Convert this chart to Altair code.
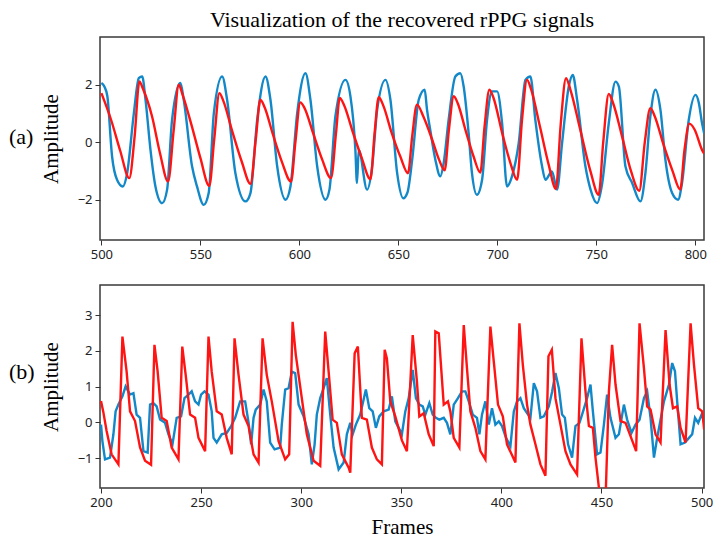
import altair as alt
import pandas as pd

# ---------------- data ----------------
# (a) top panel
top_blue_x = [500, 501.5, 503, 505.4, 507.9, 510.8, 513, 516.4, 518.9, 520.6, 522.3, 524.8, 527.3, 530.7,
              533.2, 535.7, 539.9, 541.6, 545.8, 548.3, 551.7, 554.2, 556.8, 561, 563.5, 567.7, 572.8,
              575.3, 578.7, 582.9, 585.4, 588.8, 593, 595.5, 598.9, 603.1, 605.6, 609, 613.2, 615.2, 618.2,
              623.3, 625.8, 628.3, 629.1, 630, 634.2, 636.8, 639.3, 643.5, 646, 649.4, 652.5, 654.6, 657,
              660.3, 663.3, 664.5, 666.1, 668.7, 671.2, 672.9, 675.4, 678.8, 681.3, 683, 685.5, 687.2,
              689.7, 692.3, 694.8, 697.3, 699.9, 702.4, 704.9, 707.4, 710.8, 714.2, 716.7, 719.2, 722.6,
              724.3, 727.6, 730.2, 732.7, 736.1, 738.1, 740.3, 744.5, 747.1, 750.4, 753, 756.3, 759.7,
              761.4, 764.7, 768.1, 772.3, 774.8, 777.3, 779.9, 782.4, 784.9, 788.3, 791.3, 793.3, 796.7,
              800.1, 801.8, 803.4, 804.5]
top_blue_y = [2.05, 1.93, 1.6, -0.5, -1.31, -1.54, -1.08, 1.0, 2.22, 2.28, 1.47, -0.27, -1.54, -2.12,
              -1.65, 0.77, 2.05, 1.47, -0.84, -1.54, -2.18, -1.77, 1.0, 2.28, 1.47, -1.08, -2.06,
              -1.77, 0.77, 2.28, 1.47, -0.84, -2.0, -1.54, 1.0, 2.39, 1.47, -0.84, -2.0, -1.65, 0.89,
              2.16, 1.59, -0.27, -1.42, -0.27, -1.65, -0.84, 1.12, 2.16, 1.47, -1.08, -1.95, -1.75, -0.61,
              1.47, 1.82, 1.12, 0.43, -0.61, -1.19, -0.73, 0.77, 2.28, 2.39, 1.93, 0.31, -1.08,
              -1.83, -1.31, 0.77, 1.76, 1.76, 0.66, -1.54, -1.19, -0.04, 2.16, 2.28, 0.77, -0.84,
              -1.31, -1.02, -1.65, -0.04, 1.93, 2.33, 1.47, -0.84, -1.65, -2.12, -1.42, 0.66, 2.1,
              1.93, -0.84, -1.42, -2.06, -1.08, 0.89, 1.82, 1.12, -0.61, -1.77, -2.0, -1.42, 0.77,
              1.64, 1.36, 0.66, 0.3]

top_red_x = [500, 505, 509.5, 514.1, 516.8, 519.2, 521, 525.6, 529.5, 533.7, 536.5, 539.1, 541, 545.5,
             550, 554.5, 557, 559.6, 561.5, 566, 571, 575.3, 578, 580.3, 582.5, 586.5, 591, 595.8, 598,
             600.5, 602.5, 607, 611.5, 616, 618.5, 620.4, 622.5, 627, 631.5, 635.9, 638, 640.1, 642.5,
             646.5, 651, 654.9, 657, 659.4, 662.7, 667, 670.5, 673.4, 675.5, 678, 680, 684, 688, 691.4,
             693.5, 696, 698, 702.5, 706.5, 710, 712.5, 715, 717, 721.5, 726, 729.6, 732, 734.7, 737,
             742, 747, 751.2, 753.5, 756.3, 758.5, 763, 767.5, 771.7, 774.5, 777.3, 779.5, 784, 788.5,
             792.4, 794.5, 797, 799.7, 803.4, 804.5]
top_red_y = [1.70, 0.75, -0.3, -1.25, 0.2, 2.11, 1.85, 0.89, -0.35, -1.37, 0.4, 1.99, 1.65, 0.6,
             -0.55, -1.52, 0.1, 1.70, 1.45, 0.4, -0.7, -1.45, 0.1, 1.47, 1.2, 0.3, -0.65, -1.37, 0.0,
             1.38, 1.2, 0.3, -0.6, -1.25, 0.3, 1.53, 1.3, 0.35, -0.55, -1.29, 0.3, 1.56, 1.25,
             0.35, -0.5, -1.08, 0.2, 1.30, 0.88, 0.1, -0.6, -0.98, 0.4, 1.59, 1.35, 0.4, -0.5, -1.06,
             0.5, 1.82, 1.55, 0.3, -0.7, -1.31, 0.8, 2.16, 1.85, 0.55, -0.8, -1.63, 0.6, 2.22, 1.8,
             0.4, -1.0, -1.83, 0.0, 1.67, 1.35, 0.2, -1.0, -1.69, 0.0, 1.18, 0.9, -0.1, -1.0,
             -1.65, -0.3, 0.64, 0.43, -0.27, -0.4]

# (b) bottom panel
bot_blue_x = [200, 200.7, 202, 204.5, 206.2, 207.3, 208.7, 210.7, 212.3, 214.5, 216.2, 217.8, 219.5, 221.2,
              223.3, 224.5, 226.2, 227.8, 229.5, 232, 233.7, 235.7, 237.8, 240, 241.7, 243.7, 245.3, 247,
              248.7, 250, 251.7, 253.7, 255.3, 256.2, 257.8, 260.3, 262.8, 265, 267, 269.5, 272, 273.7,
              275, 276.2, 277.3, 279.5, 281.2, 282.8, 284.5, 286.7, 289.5, 290.3, 292, 293.7, 295.3, 297,
              298.7, 301.2, 303.7, 305.3, 306.7, 307.8, 309.5, 311.2, 312.8, 314.5, 316.2, 318.7, 321.2,
              322.8, 324.5, 325.7, 327.3, 329.5, 332.3, 334, 335.7, 337.3, 339, 341.2, 343.7, 345.3, 347,
              348.7, 350.3, 352, 353.7, 355.7, 357.3, 359, 360.7, 362, 364, 365.7, 367.3, 369, 371.2,
              372.8, 374.5, 376.2, 378.3, 380.3, 382, 383.7, 385.7, 387.8, 389, 390.3, 392, 393.7, 395.3,
              397, 398.7, 400.3, 402.3, 404.5, 406.2, 407.8, 409.5, 411.2, 412.8, 414.5, 416.2, 417.8,
              419.5, 421.2, 423.7, 425.3, 427, 428.7, 430.3, 431.7, 433.3, 435.3, 437, 439, 440.3, 442.8,
              444.5, 445.7, 447.8, 449.5, 451.2, 452.8, 454.5, 457, 458.7, 461.2, 462.8, 465, 467, 469,
              471.2, 472.8, 474.5, 476.2, 477.8, 479.5, 481.2, 483.7, 485.3, 486.7, 487.8, 489.5, 491.7,
              493.7, 495.3, 496.7, 498.3, 500, 501.3]
bot_blue_y = [-0.06, -0.52, -1.03, -0.98, -0.33, 0.31, 0.50, 0.73, 1.01, 0.78, 0.82, 0.22, 0.13, -0.80,
              -0.84, 0.50, 0.54, 0.45, 0.08, -0.01, -0.33, -0.61, 0.13, 0.17, 0.68, 0.78, 0.87, 0.59,
              0.50, 0.78, 0.87, 0.78, 0.31, -0.43, -0.56, -0.33, -0.29, -0.10, 0.13, 0.59, 0.59, 0.0,
              -0.61, 0.13, 0.36, 0.50, 0.92, 0.59, -0.56, -0.75, -0.70, -0.06, 0.92, 0.96, 1.42, 1.38,
              0.50, 0.17, -0.33, -1.17, -0.61, 0.22, 0.68, 0.96, 1.24, 0.22, -0.70, -1.31, -1.12,
              -0.33, -0.01, -0.33, -0.06, 0.22, 0.92, 0.40, 0.31, -0.15, 0.17, 0.31, 0.36, 0.73, 0.03,
              -0.15, -0.33, 0.31, 0.68, 1.47, 0.68, 0.50, 0.45, 0.22, 0.54, 0.22, 0.13, 0.08, 0.13,
              -0.01, -0.33, 0.50, 0.68, 0.87, 0.87, 0.59, 0.22, 0.13, -0.33, 0.22, 0.59, -0.06, 0.40,
              -0.06, 0.03, -0.10, -0.43, -0.66, 0.31, 0.59, 0.68, 0.40, 0.26, 0.13, 1.10, 0.87,
              0.13, 0.17, 0.45, 0.85, 1.38, 0.96, 0.22, 0.13, -0.61, -0.98, -0.10, -0.01, 0.22, 0.68,
              1.06, 0.31, -0.89, -0.84, -0.06, 0.78, 0.13, -0.43, -0.33, 0.50, 0.08, -0.29, -0.06, 0.08,
              0.68, 0.87, 0.13, -0.98, -0.43, 0.08, 0.59, 1.06, 1.66, 1.43, 0.59, -0.61, -0.56,
              -0.43, -0.33, 0.13, -0.01, 0.22, 0.03]

bot_red_x = [200, 201.1, 202.8, 205.3, 208.7, 210.7, 212.8, 214.5, 217, 219.5, 222, 225, 226.7, 228.3,
             230.3, 232.8, 235.3, 238.7, 240.6, 242.3, 244.5, 247, 248.7, 252, 253.7, 255.3, 257.8, 260.3,
             262.8, 265.3, 266.7, 268.7, 271.2, 273.7, 276.2, 278.7, 280.7, 282.8, 285.3, 288.7, 292, 294,
             295.7, 297.3, 300.3, 302.8, 306.2, 309.5, 312, 313.7, 315.7, 317.8, 320.3, 323.7, 324.5,
             326.7, 328.3, 330.3, 332.8, 335.3, 337.8, 340.3, 341.7, 342.8, 344.5, 347, 350.3, 352.8,
             355.7, 357.8, 359, 361.2, 363.7, 366.2, 367, 368.7, 371.2, 373.3, 374.5, 376.2, 379, 381.2,
             382.8, 384.5, 387, 389.5, 392, 394.5, 396.2, 398.3, 400.7, 402.8, 407, 409, 410.7, 412.8,
             414.5, 417, 419.5, 422, 423.5, 425.2, 427, 429.5, 432, 434.5, 437.8, 440, 442, 443.7, 445.7,
             447, 448.7, 450.5, 452, 453.7, 455.3, 457, 459.5, 462, 464.5, 467.3, 469, 471.2, 472.8,
             474.5, 477, 479.5, 482, 484, 485.7, 487.8, 489.5, 492, 494.5, 496.2, 498.3, 500.3, 501.3]
bot_red_y = [0.60, 0.31, -0.24, -0.89, -1.17, 2.40, 1.42, 0.31, 0.04, -0.70, -1.07, -1.18, 2.17, 1.42,
             0.13, 0.04, -0.70, -1.03, 2.12, 1.33, 0.22, 0.13, -0.43, -0.80, 2.40, 1.42, 0.31, 0.22,
             -0.43, -0.89, 2.35, 1.33, 0.22, -0.10, -0.89, -1.12, 2.35, 1.33, 0.59, -0.52, -1.03, -0.89,
             2.81, 1.89, 0.68, -0.33, -1.07, -1.21, 2.54, 1.42, 0.08, -0.01, -0.89, -1.26, -1.40,
             1.93, 2.12, 0.13, 0.08, -0.70, -1.03, -1.17, 2.03, 1.79, 0.59, 0.17, -0.50, -0.80,
             2.44, 1.15, 0.17, 0.26, -0.33, -0.66, 2.54, 2.49, 0.50, 0.59, 0.31, -0.43, -0.70, 2.72,
             1.52, 0.31, -0.15, -0.80, -1.03, 2.68, 1.70, 0.50, 0.17, -0.61, -1.12, 2.77, 1.61, 0.50,
             -0.06, -0.61, -1.17, -1.49, 1.85, 2.03, 0.68, -0.06, -0.80, -1.17, -1.45, 2.35, 0.87, -0.10,
             -0.15, -0.98, -1.82, -2.40, -2.20, 0.87, 2.17, 1.06, 0.04, -0.01, -0.38, -0.80, 2.77, 1.52,
             0.45, 0.36, -0.33, -0.56, 2.58, 1.06, 0.40, 0.45, -0.15, -0.56, 2.77, 1.61, 0.40, 0.31, -0.2]

top_xticks = [500, 550, 600, 650, 700, 750, 800]
top_yticks = [-2, 0, 2]
bot_xticks = [200, 250, 300, 350, 400, 450, 500]
bot_yticks = [-1, 0, 1, 2, 3]

BLUE = "#1288c8"
RED = "#ff1414"
SERIF = "Liberation Serif"


def panel(bx, by, rx, ry, xdom, ydom, xticks, yticks, label, label_x, label_y, w, h, xtitle, interp):
    xs = alt.Scale(domain=xdom, nice=False, zero=False)
    ys = alt.Scale(domain=ydom, nice=False, zero=False)
    xax = alt.Axis(values=xticks, labelFlush=False, format="d")
    yax = alt.Axis(values=yticks, titlePadding=16, format="d")
    if xtitle:
        xenc = alt.X("frame:Q", scale=xs, axis=xax, title=xtitle)
    else:
        xenc = alt.X("frame:Q", scale=xs, axis=xax, title=None)
    yenc = alt.Y("amp:Q", scale=ys, axis=yax, title="Amplitude")
    blue = alt.Chart(pd.DataFrame({"frame": bx, "amp": by})).mark_line(
        color=BLUE, strokeWidth=2.4, clip=True, interpolate=interp).encode(x=xenc, y=yenc)
    red = alt.Chart(pd.DataFrame({"frame": rx, "amp": ry})).mark_line(
        color=RED, strokeWidth=2.4, clip=True, interpolate=interp).encode(x=xenc, y=yenc)
    lab = alt.Chart(pd.DataFrame({"t": [label]})).mark_text(
        font=SERIF, fontSize=22, align="left", baseline="middle", color="black"
    ).encode(x=alt.value(label_x), y=alt.value(label_y), text="t:N")
    return alt.layer(blue, red, lab).properties(width=w, height=h)


top = panel(top_blue_x, top_blue_y, top_red_x, top_red_y, [499.3, 804.4], [-3.4, 3.65],
            top_xticks, top_yticks, "(a)", -91, 100, 604, 203, None, "monotone").properties(
    title=alt.TitleParams("Visualization of the recovered rPPG signals", font=SERIF, fontSize=22,
                          fontWeight="normal", color="black", anchor="middle", frame="group", offset=5)
)
bottom = panel(bot_blue_x, bot_blue_y, bot_red_x, bot_red_y, [199.5, 501.2], [-1.83, 3.84],
               bot_xticks, bot_yticks, "(b)", -91, 87, 604, 203, "Frames", "linear")

chart = alt.vconcat(top, bottom, spacing=22,
                    padding={"left": 0, "top": 0, "right": 0, "bottom": 0}).configure_view(
    stroke="#3a3a3a", strokeWidth=1.5
).configure_axis(
    grid=False, domain=False, tickColor="#333", tickSize=5, tickWidth=1,
    labelFont="Noto Sans", labelFontSize=13, labelColor="#222", labelPadding=3,
    titleFont=SERIF, titleFontSize=21, titleFontWeight="normal", titleColor="black"
).configure_axisX(titlePadding=7)

chart.save("out.html", embed_options={"renderer": "svg", "actions": False})
